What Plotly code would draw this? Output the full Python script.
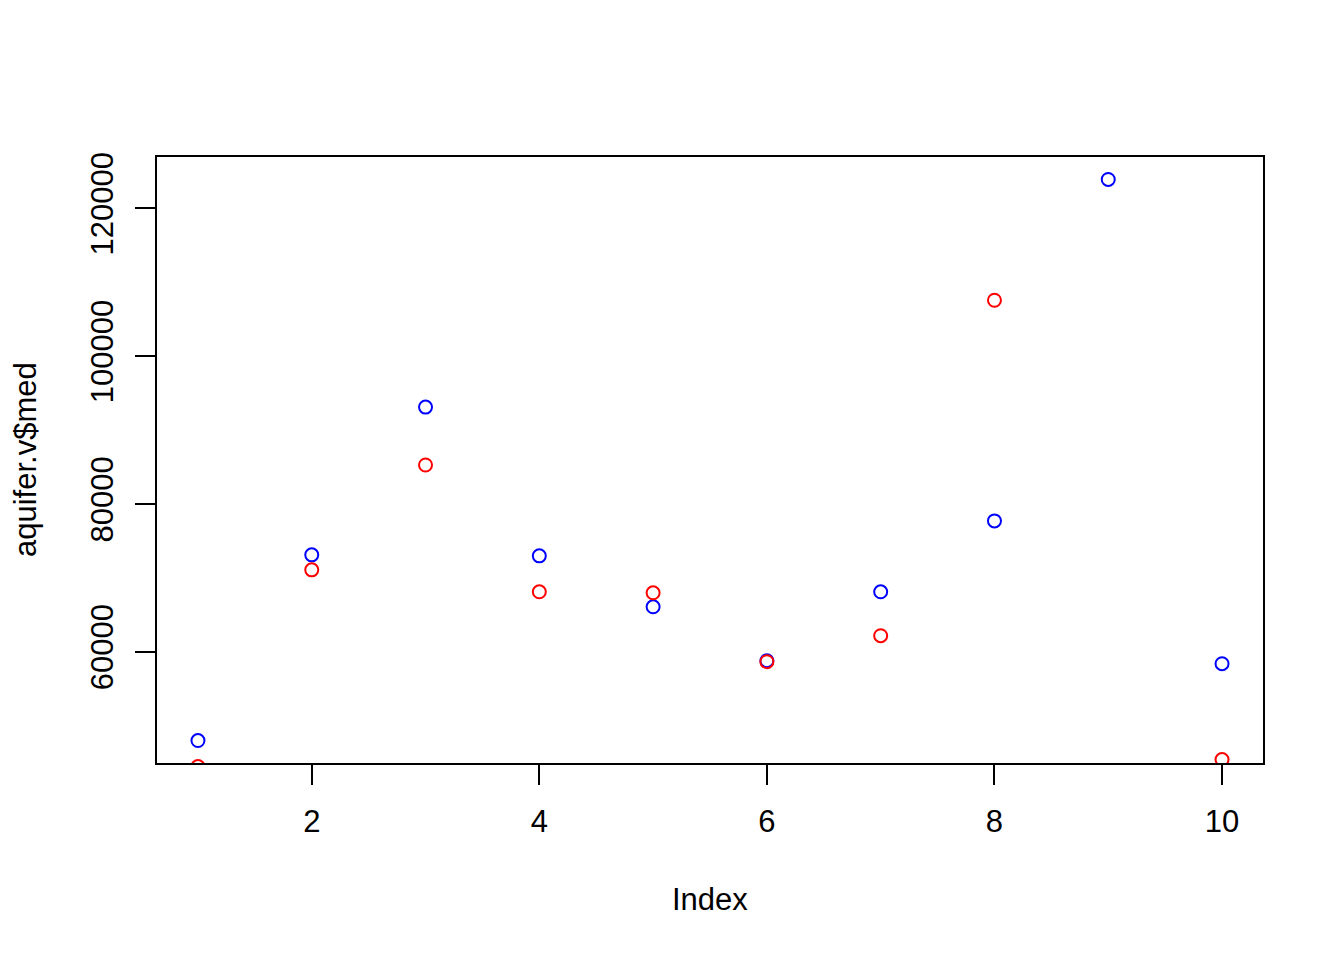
import plotly.graph_objects as go

index = [1, 2, 3, 4, 5, 6, 7, 8, 9, 10]
blue_vals = [47973, 73108, 93108, 72973, 66081, 58784, 68108, 77703, 123919, 58378]
red_vals = [44459, 71081, 85270, 68108, 67973, 58649, 62162, 107568, None, 45405]
x_ticks = [2, 4, 6, 8, 10]
y_ticks = [60000, 80000, 100000, 120000]

FONT = "Liberation Sans, Arial, sans-serif"

fig = go.Figure()
fig.add_trace(go.Scatter(x=index, y=blue_vals, mode="markers",
                         marker=dict(symbol="circle-open", size=13, color="#0000FF",
                                     line=dict(width=2, color="#0000FF")),
                         cliponaxis=True, showlegend=False))
fig.add_trace(go.Scatter(x=index, y=red_vals, mode="markers",
                         marker=dict(symbol="circle-open", size=13, color="#FF0000",
                                     line=dict(width=2, color="#FF0000")),
                         cliponaxis=True, showlegend=False))

ymin, ymax = min(blue_vals), max(blue_vals)
pad = (ymax - ymin) * 0.04

ML, MR, MT, MB = 149, 89, 149, 205
plot_w = 1344 - ML - MR
plot_h = 960 - MT - MB

fig.update_layout(
    width=1344, height=960,
    margin=dict(l=ML, r=MR, t=MT, b=MB),
    plot_bgcolor="white", paper_bgcolor="white",
    font=dict(family=FONT, size=31, color="black"),
    xaxis=dict(range=[1 - 0.36, 10 + 0.36], tickvals=x_ticks, ticktext=[str(v) for v in x_ticks],
               showgrid=False, zeroline=False, showline=True, mirror=True,
               linecolor="black", linewidth=2, ticks="outside", ticklen=20,
               tickwidth=2, tickcolor="black", ticklabelstandoff=10),
    yaxis=dict(range=[ymin - pad, ymax + pad], tickvals=y_ticks, ticktext=[str(v) for v in y_ticks],
               showgrid=False, zeroline=False, showline=True, mirror=True,
               linecolor="black", linewidth=2, ticks="outside", ticklen=20,
               tickwidth=2, tickcolor="black", tickangle=-90, ticklabelstandoff=10),
    annotations=[
        dict(text="Index", x=0.5, y=-(900 - 763) / plot_h, xref="paper", yref="paper",
             showarrow=False, font=dict(size=31), xanchor="center", yanchor="middle"),
        dict(text="aquifer.v$med", x=-(157 - 25) / plot_w, y=0.5, xref="paper", yref="paper",
             showarrow=False, font=dict(size=31), textangle=-90,
             xanchor="center", yanchor="middle"),
    ],
)

fig.write_html("out.html")
